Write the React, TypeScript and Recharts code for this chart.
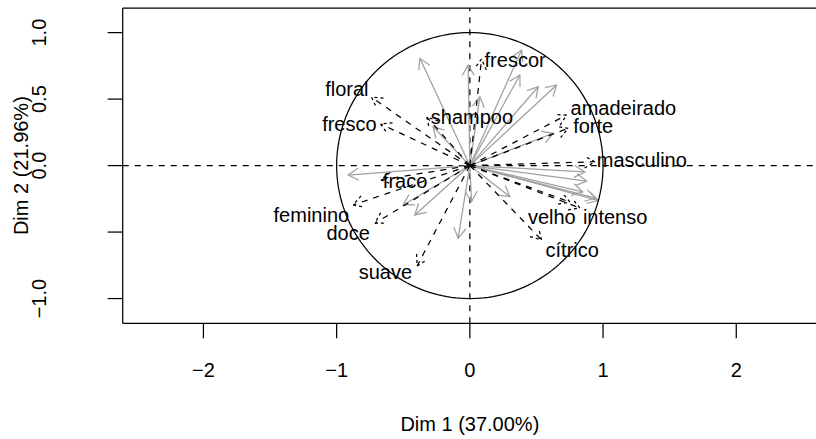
import React from 'react';
import { ScatterChart, Scatter, XAxis, YAxis, ReferenceLine } from 'recharts';

const FONT = '"Liberation Sans", Arial, Helvetica, sans-serif';

// Supplementary variables (dashed black arrows with labels): Dim 1 / Dim 2 coordinates
const supNames = ['floral', 'fresco', 'shampoo', 'frescor', 'amadeirado', 'forte', 'masculino', 'velho', 'intenso', 'cítrico', 'suave', 'doce', 'feminino', 'fraco'];
const supDim1 = [-0.738, -0.670, -0.323, 0.088, 0.726, 0.738, 0.938, 0.751, 0.826, 0.538, -0.396, -0.713, -0.876, -0.668];
const supDim2 = [0.514, 0.313, 0.365, 0.802, 0.380, 0.280, 0.029, -0.274, -0.319, -0.559, -0.755, -0.434, -0.296, -0.108];

// Active variables (grey arrows, unlabelled): Dim 1 / Dim 2 coordinates
const actDim1 = [-0.375, -0.013, 0.075, 0.388, 0.375, 0.513, 0.651, 0.625, -0.276, -0.914, -0.501, -0.413, -0.088, 0.013, 0.300, 0.863, 0.876, 0.848, 0.946, 0.963];
const actDim2 = [0.807, 0.756, 0.518, 0.869, 0.681, 0.593, 0.606, 0.243, 0.292, -0.071, -0.296, -0.371, -0.547, -0.271, -0.234, -0.048, -0.116, -0.198, -0.244, -0.262];

// Axes
const xTicks = [-2, -1, 0, 1, 2];
const xTickLabels = ['−2', '−1', '0', '1', '2'];
const yTicks = [-1, -0.5, 0, 0.5, 1];
const yTickLabels = ['−1.0', '', '0.0', '0.5', '1.0'];
const xTitle = 'Dim 1 (37.00%)';
const yTitle = 'Dim 2 (21.96%)';
const xDomain: [number, number] = [-2.606, 2.606];
const yDomain: [number, number] = [-1.186, 1.185];

// Label placement around each arrow tip (text anchor, pixel offset of the baseline)
const labelPlace: Record<string, { anchor: 'start' | 'end'; dx: number; dy: number }> = {
  floral: { anchor: 'end', dx: -3, dy: -1 },
  fresco: { anchor: 'end', dx: -4, dy: 7 },
  shampoo: { anchor: 'start', dx: 4, dy: 7 },
  frescor: { anchor: 'start', dx: 3, dy: 8 },
  amadeirado: { anchor: 'start', dx: 4, dy: 0 },
  forte: { anchor: 'start', dx: 5, dy: 5 },
  masculino: { anchor: 'start', dx: 2, dy: 5 },
  velho: { anchor: 'start', dx: -42, dy: 22 },
  intenso: { anchor: 'start', dx: 3, dy: 16 },
  'cítrico': { anchor: 'start', dx: 4, dy: 17 },
  suave: { anchor: 'end', dx: -5, dy: 13 },
  doce: { anchor: 'end', dx: -5, dy: 17 },
  feminino: { anchor: 'end', dx: -4, dy: 17 },
  fraco: { anchor: 'start', dx: 2, dy: 8 },
};

// Unit circle of correlations
const circleSteps = Array.from({ length: 181 }, (_, i) => (i * 2 * Math.PI) / 180);
const circlePts = circleSteps.map((t) => ({ x: Math.cos(t), y: Math.sin(t) }));

const LW = 1.25;
const DASH = '6 6';
const GREY = '#a0a0a0';

const makeArrow = (color: string, dashed: boolean, label?: string) => (p: any) => {
  const { x1, y1, x2, y2 } = p;
  const ang = Math.atan2(y2 - y1, x2 - x1);
  const L = 12;
  const a = Math.PI / 6;
  const hx1 = x2 - L * Math.cos(ang - a);
  const hy1 = y2 - L * Math.sin(ang - a);
  const hx2 = x2 - L * Math.cos(ang + a);
  const hy2 = y2 - L * Math.sin(ang + a);
  const place = label ? labelPlace[label] : undefined;
  return (
    <g>
      <line x1={x1} y1={y1} x2={x2} y2={y2} stroke={color} strokeWidth={LW} strokeDasharray={dashed ? DASH : undefined} />
      <path
        d={`M${hx1},${hy1}L${x2},${y2}L${hx2},${hy2}`}
        fill="none"
        stroke={color}
        strokeWidth={LW}
        strokeDasharray={dashed ? '3 3' : undefined}
      />
      {label && place && (
        <text x={x2 + place.dx} y={y2 + place.dy} textAnchor={place.anchor} fontSize={20} fontFamily={FONT} fill="#000">
          {label}
        </text>
      )}
    </g>
  );
};

const XTick = (props: any) => {
  const { x, y, payload } = props;
  const i = xTicks.indexOf(payload.value);
  return (
    <text x={x} y={y + 37} textAnchor="middle" fontSize={20} fontFamily={FONT} fill="#000">
      {xTickLabels[i]}
    </text>
  );
};

const YTick = (props: any) => {
  const { x, y, payload } = props;
  const i = yTicks.indexOf(payload.value);
  const tx = x - 60;
  return (
    <text x={tx} y={y} transform={`rotate(-90, ${tx}, ${y})`} textAnchor="middle" fontSize={20} fontFamily={FONT} fill="#000">
      {yTickLabels[i]}
    </text>
  );
};

export default function App() {
  return (
    <div style={{ position: 'absolute', left: 0, top: 0, width: 816, height: 439, background: '#fff', fontFamily: FONT }}>
      <ScatterChart width={816} height={439} margin={{ top: 8, right: -1, bottom: 0, left: 0 }}>
        <XAxis
          type="number"
          dataKey="x"
          domain={xDomain}
          ticks={xTicks}
          allowDataOverflow
          height={115.7}
          tickSize={15}
          tick={<XTick />}
          axisLine={{ stroke: '#000', strokeWidth: LW }}
          tickLine={{ stroke: '#000', strokeWidth: LW }}
          label={{
            content: ({ viewBox }: any) => (
              <text x={viewBox.x + viewBox.width / 2} y={viewBox.y + 108} textAnchor="middle" fontSize={20} fontFamily={FONT} fill="#000">
                {xTitle}
              </text>
            ),
          }}
        />
        <YAxis
          type="number"
          dataKey="y"
          domain={yDomain}
          ticks={yTicks}
          allowDataOverflow
          width={122.7}
          tickSize={15}
          tick={<YTick />}
          axisLine={{ stroke: '#000', strokeWidth: LW }}
          tickLine={{ stroke: '#000', strokeWidth: LW }}
          label={{
            content: ({ viewBox }: any) => {
              const cx = viewBox.x + 28;
              const cy = viewBox.y + viewBox.height / 2;
              return (
                <text x={cx} y={cy} transform={`rotate(-90, ${cx}, ${cy})`} textAnchor="middle" fontSize={20} fontFamily={FONT} fill="#000">
                  {yTitle}
                </text>
              );
            },
          }}
        />
        {/* top edge of the plot box */}
        <ReferenceLine y={yDomain[1]} stroke="#000" strokeWidth={LW} ifOverflow="visible" />
        {/* dashed axes through the origin */}
        <ReferenceLine x={0} stroke="#000" strokeWidth={LW} strokeDasharray={DASH} />
        <ReferenceLine y={0} stroke="#000" strokeWidth={LW} strokeDasharray={DASH} />

        <Scatter
          data={circlePts}
          line={{ stroke: '#000', strokeWidth: LW }}
          shape={() => <g />}
          isAnimationActive={false}
        />

        {actDim1.map((vx, i) => (
          <ReferenceLine
            key={`act-${i}`}
            segment={[{ x: 0, y: 0 }, { x: vx, y: actDim2[i] }]}
            shape={makeArrow(GREY, false)}
          />
        ))}
        {supNames.map((name, i) => (
          <ReferenceLine
            key={`sup-${name}`}
            segment={[{ x: 0, y: 0 }, { x: supDim1[i], y: supDim2[i] }]}
            shape={makeArrow('#000', true, name)}
          />
        ))}
      </ScatterChart>
    </div>
  );
}
